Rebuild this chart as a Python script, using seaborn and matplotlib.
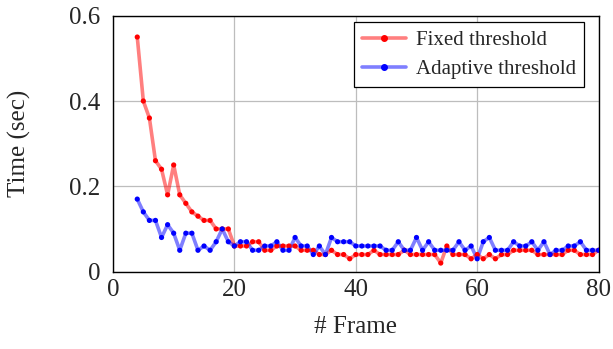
import numpy as np
import pandas as pd
import matplotlib
matplotlib.use("Agg")
import matplotlib.pyplot as plt
from matplotlib.lines import Line2D
import seaborn as sns

frames = list(range(4, 81))
fixed = [0.55, 0.40, 0.36, 0.26, 0.24, 0.18, 0.25, 0.18, 0.16, 0.14, 0.13, 0.12, 0.12,
         0.10, 0.10, 0.10, 0.06, 0.06, 0.06, 0.07, 0.07, 0.05, 0.05, 0.06, 0.06, 0.06,
         0.06, 0.05, 0.05, 0.05, 0.04, 0.04, 0.05, 0.04, 0.04, 0.03, 0.04, 0.04, 0.04,
         0.05, 0.04, 0.04, 0.04, 0.04, 0.05, 0.04, 0.04, 0.04, 0.04, 0.04, 0.02, 0.06,
         0.04, 0.04, 0.04, 0.03, 0.04, 0.03, 0.04, 0.03, 0.04, 0.04, 0.05, 0.05, 0.05,
         0.05, 0.04, 0.04, 0.04, 0.04, 0.04, 0.05, 0.05, 0.04, 0.04, 0.04, 0.05]
adaptive = [0.17, 0.14, 0.12, 0.12, 0.08, 0.11, 0.09, 0.05, 0.09, 0.09, 0.05, 0.06, 0.05,
            0.07, 0.10, 0.07, 0.06, 0.07, 0.07, 0.05, 0.05, 0.06, 0.06, 0.07, 0.05, 0.05,
            0.08, 0.06, 0.06, 0.04, 0.06, 0.04, 0.08, 0.07, 0.07, 0.07, 0.06, 0.06, 0.06,
            0.06, 0.06, 0.05, 0.05, 0.07, 0.05, 0.05, 0.08, 0.05, 0.07, 0.05, 0.05, 0.05,
            0.05, 0.07, 0.05, 0.06, 0.03, 0.07, 0.08, 0.05, 0.05, 0.05, 0.07, 0.06, 0.06,
            0.07, 0.05, 0.07, 0.04, 0.05, 0.05, 0.06, 0.06, 0.07, 0.05, 0.05, 0.05]
series_names = ["Fixed threshold", "Adaptive threshold"]
x_ticks = [0, 20, 40, 60, 80]
y_ticks = [0, 0.2, 0.4, 0.6]
y_tick_labels = ["0", "0.2", "0.4", "0.6"]

df = pd.DataFrame({
    "frame": frames * 2,
    "time": fixed + adaptive,
    "method": [series_names[0]] * len(frames) + [series_names[1]] * len(frames),
})

sns.set_style("white")
plt.rcParams["font.family"] = ["Liberation Serif", "DejaVu Serif"]

fig = plt.figure(figsize=(6.13, 3.49), dpi=100)
ax = fig.add_axes([0.1843, 0.2218, 0.7922, 0.7332])

palette = {series_names[0]: "#ff0000", series_names[1]: "#0000ff"}
sns.lineplot(data=df, x="frame", y="time", hue="method", palette=palette,
             lw=2.6, alpha=0.5, ax=ax, legend=False, zorder=3)
sns.scatterplot(data=df, x="frame", y="time", hue="method", palette=palette,
                s=14, linewidth=0, ax=ax, legend=False, zorder=4)

ax.set_xlim(0, 80)
ax.set_ylim(0, 0.6)
ax.set_xticks(x_ticks)
ax.set_yticks(y_ticks)
ax.set_yticklabels(y_tick_labels)
ax.grid(True, color="#bdbdbd", lw=0.9)
ax.set_axisbelow(True)
for s in ax.spines.values():
    s.set_color("black")
    s.set_linewidth(1.0)
ax.tick_params(axis="both", direction="in", length=4, labelsize=18, color="#808080")
ax.tick_params(axis="y", pad=9)
ax.tick_params(axis="x", pad=5)
ax.set_xlabel("# Frame", fontsize=18)
ax.set_ylabel("Time (sec)", fontsize=18)
ax.yaxis.set_label_coords(-0.168, 0.5)
ax.xaxis.set_label_coords(0.5, -0.175)

handles = [Line2D([0], [0], color=(1, 0, 0, 0.5), lw=2.6, marker="o", ms=4,
                  markerfacecolor="#ff0000", markeredgecolor="#ff0000"),
           Line2D([0], [0], color=(0, 0, 1, 0.5), lw=2.6, marker="o", ms=4,
                  markerfacecolor="#0000ff", markeredgecolor="#0000ff")]
leg = ax.legend(handles, series_names, loc="upper right", fontsize=15,
                frameon=True, fancybox=False, edgecolor="black", framealpha=1,
                borderpad=0.4, handlelength=2.1, handletextpad=0.45,
                labelspacing=0.45, borderaxespad=0,
                bbox_to_anchor=(0.970, 0.975))
leg.get_frame().set_linewidth(0.9)

fig.savefig("out.png", dpi=100)
